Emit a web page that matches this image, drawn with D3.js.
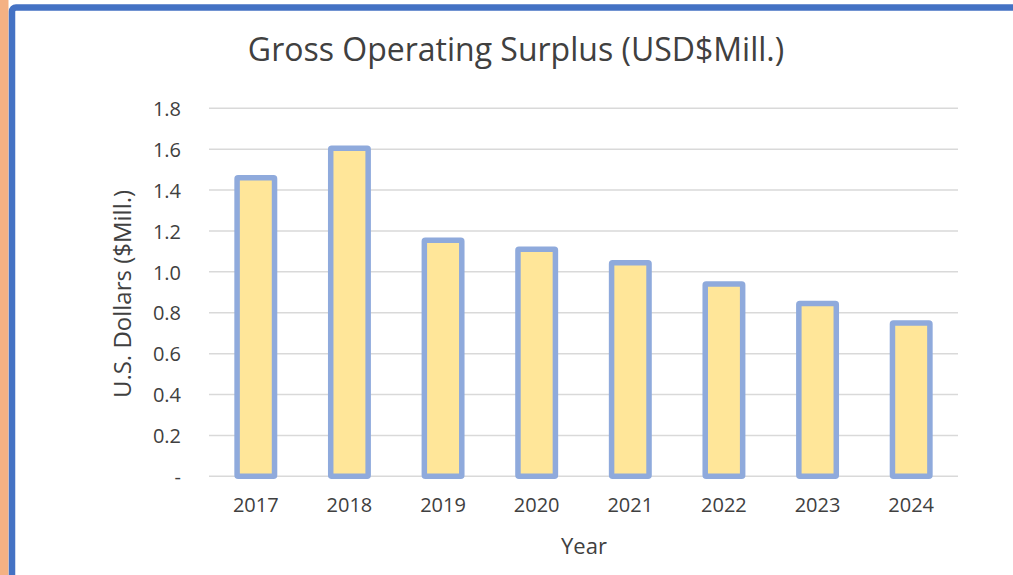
<!DOCTYPE html>
<html><head><meta charset="utf-8">
<script src="https://cdn.jsdelivr.net/npm/d3@7"></script>
<style>html,body{margin:0;padding:0;background:#fff;overflow:hidden}</style>
</head><body>
<svg id="c" width="1013" height="575"></svg>
<script>
const categories = ["2017","2018","2019","2020","2021","2022","2023","2024"];
const values = [1.46, 1.605, 1.155, 1.11, 1.045, 0.94, 0.845, 0.75];
const yTicks = [0, 0.2, 0.4, 0.6, 0.8, 1.0, 1.2, 1.4, 1.6, 1.8];
const title = "Gross Operating Surplus (USD$Mill.)";
const yTitle = "U.S. Dollars ($Mill.)";
const xTitle = "Year";

const svg = d3.select("#c");
const font = "'Open Sans', sans-serif";
// frame
svg.append("rect").attr("x",0).attr("y",0).attr("width",8.5).attr("height",575).attr("fill","#f4b183");
svg.append("rect").attr("x",12).attr("y",7.5).attr("width",1100).attr("height",700).attr("rx",4)
  .attr("fill","none").attr("stroke","#4472c4").attr("stroke-width",6.5);

const L = 209, R = 958, T = 108.3, B = 476.3;
const x = d3.scaleBand().domain(categories).range([L,R]).paddingInner(0.6).paddingOuter(0.3);
const y = d3.scaleLinear().domain([0,1.8]).range([B,T]);

const g = svg.append("g");
g.selectAll("line.grid").data(yTicks).join("line").attr("class","grid")
  .attr("x1",L).attr("x2",R).attr("y1",d=>y(d)).attr("y2",d=>y(d))
  .attr("stroke","#d9d9d9").attr("stroke-width",1.5);

const yAxis = d3.axisLeft(y).tickValues(yTicks).tickSize(0).tickPadding(28)
  .tickFormat(d => d===0 ? "-" : d3.format(".1f")(d));
const ya = svg.append("g").attr("transform",`translate(${L},0)`).call(yAxis);
ya.select(".domain").remove();
ya.selectAll("text").attr("font-family",font).attr("font-size",20).attr("fill","#404040").attr("dy","0.36em");

g.selectAll("rect.bar").data(values).join("rect").attr("class","bar")
  .attr("x",(d,i)=>x(categories[i])).attr("width",x.bandwidth())
  .attr("y",d=>y(d)).attr("height",d=>B-y(d))
  .attr("fill","#ffe699").attr("stroke","#8faadc").attr("stroke-width",5.5).attr("rx",1);

const xAxis = d3.axisBottom(x).tickSize(0).tickPadding(22);
const xa = svg.append("g").attr("transform",`translate(0,${B})`).call(xAxis);
xa.select(".domain").remove();
xa.selectAll("text").attr("font-family",font).attr("font-size",20).attr("fill","#404040");

svg.append("text").attr("x",516).attr("y",61).attr("text-anchor","middle")
  .attr("font-family",font).attr("font-size",32).attr("fill","#404040").text(title);
svg.append("text").attr("transform","translate(131,294) rotate(-90)").attr("text-anchor","middle")
  .attr("font-family",font).attr("font-size",24).attr("fill","#404040").text(yTitle);
svg.append("text").attr("x",584).attr("y",554).attr("text-anchor","middle")
  .attr("font-family",font).attr("font-size",22).attr("fill","#404040").text(xTitle);
</script>
</body></html>
